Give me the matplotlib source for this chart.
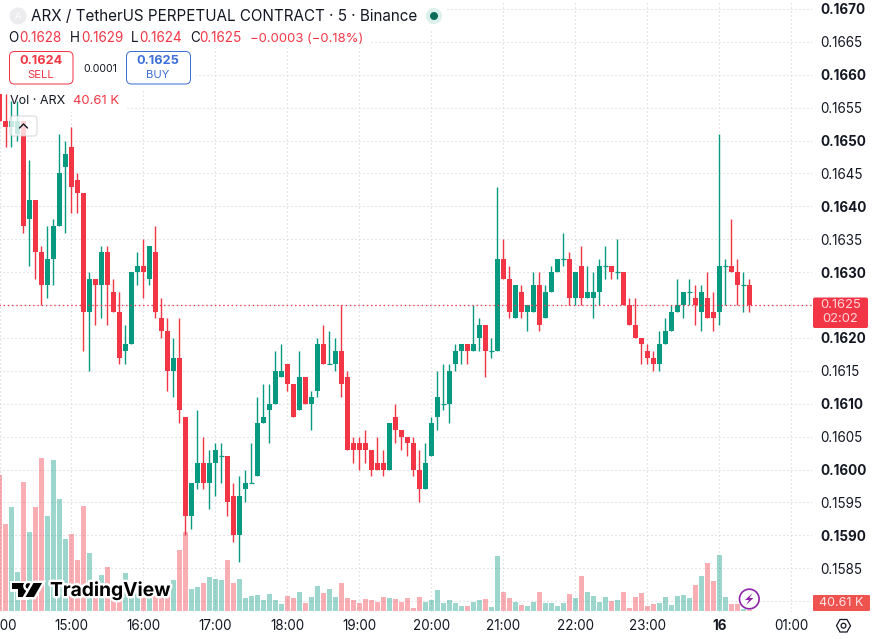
import matplotlib
matplotlib.use("Agg")
import matplotlib.pyplot as plt
import matplotlib.patheffects as pe
from matplotlib.patches import Circle, FancyBboxPatch, Polygon, Rectangle
import numpy as np

plt.rcParams["font.family"] = ["Inter", "DejaVu Sans"]

# ── Data ──────────────────────────────────────────────────────────────────────
# prices are in ticks of 0.0001, one bar every 5 minutes, bar 0 is 15:00
first_bar = -12
opens = [1657, 1653, 1652, 1651, 1653, 1638, 1641, 1633, 1628, 1632, 1637, 1646,
         1649, 1644, 1642, 1624, 1629, 1628, 1633, 1627, 1624, 1618, 1619, 1630,
         1631, 1629, 1633, 1623, 1621, 1615, 1617, 1608, 1593, 1598, 1601, 1598,
         1601, 1602, 1602, 1596, 1590, 1597, 1598, 1599, 1607, 1609, 1610, 1614,
         1616, 1613, 1609, 1614, 1610, 1612, 1619, 1616, 1616, 1618, 1614, 1604,
         1604, 1604, 1603, 1601, 1601, 1600, 1608, 1606, 1605, 1604, 1600, 1597,
         1602, 1608, 1610, 1610, 1616, 1618, 1619, 1618, 1620, 1622, 1618, 1618,
         1632, 1629, 1623, 1627, 1624, 1624, 1628, 1623, 1627, 1630, 1632, 1632,
         1626, 1631, 1626, 1626, 1627, 1631, 1631, 1630, 1630, 1625, 1622, 1620,
         1618, 1617, 1616, 1619, 1621, 1624, 1625, 1627, 1626, 1624, 1626, 1624,
         1624, 1631, 1631, 1630, 1628, 1628]
closes = [1653, 1652, 1653, 1653, 1637, 1641, 1633, 1628, 1632, 1637, 1645, 1648,
          1643, 1642, 1624, 1629, 1628, 1633, 1628, 1624, 1617, 1619, 1630, 1631,
          1630, 1634, 1624, 1621, 1615, 1617, 1609, 1593, 1598, 1601, 1598, 1601,
          1603, 1602, 1595, 1590, 1596, 1598, 1598, 1607, 1608, 1610, 1615, 1615,
          1613, 1608, 1614, 1610, 1611, 1619, 1616, 1616, 1618, 1613, 1603, 1603,
          1603, 1603, 1600, 1600, 1600, 1607, 1606, 1605, 1604, 1600, 1597, 1601,
          1607, 1611, 1610, 1615, 1618, 1619, 1618, 1619, 1622, 1618, 1618, 1632,
          1629, 1624, 1628, 1624, 1625, 1628, 1622, 1627, 1630, 1632, 1632, 1626,
          1630, 1626, 1627, 1627, 1631, 1631, 1630, 1630, 1625, 1622, 1620, 1619,
          1617, 1616, 1619, 1621, 1624, 1625, 1627, 1627, 1625, 1627, 1623, 1623,
          1631, 1631, 1630, 1628, 1628, 1625]
highs = [1657, 1657, 1656, 1656, 1653, 1647, 1641, 1634, 1637, 1638, 1651, 1650,
         1652, 1645, 1642, 1630, 1629, 1634, 1634, 1629, 1627, 1622, 1630, 1633,
         1635, 1634, 1637, 1626, 1623, 1620, 1623, 1608, 1598, 1609, 1605, 1603,
         1604, 1604, 1602, 1598, 1599, 1600, 1604, 1611, 1613, 1613, 1618, 1619,
         1616, 1613, 1618, 1614, 1612, 1620, 1622, 1621, 1620, 1625, 1615, 1605,
         1605, 1606, 1603, 1605, 1603, 1607, 1610, 1606, 1605, 1605, 1603, 1604,
         1608, 1615, 1616, 1616, 1619, 1619, 1619, 1625, 1623, 1622, 1620, 1643,
         1635, 1631, 1628, 1628, 1625, 1630, 1630, 1628, 1631, 1632, 1636, 1633,
         1630, 1634, 1631, 1630, 1632, 1634, 1631, 1635, 1630, 1626, 1626, 1620,
         1619, 1618, 1621, 1623, 1625, 1629, 1627, 1629, 1628, 1628, 1630, 1627,
         1651, 1632, 1638, 1632, 1630, 1629]
lows = [1653, 1649, 1649, 1650, 1636, 1631, 1629, 1625, 1626, 1628, 1637, 1636,
        1639, 1639, 1618, 1615, 1622, 1623, 1622, 1624, 1616, 1616, 1619, 1628,
        1626, 1628, 1623, 1620, 1612, 1611, 1607, 1590, 1591, 1597, 1597, 1594,
        1596, 1598, 1593, 1589, 1586, 1595, 1598, 1599, 1607, 1604, 1610, 1614,
        1612, 1608, 1609, 1610, 1606, 1611, 1616, 1616, 1615, 1611, 1603, 1601,
        1600, 1601, 1599, 1600, 1599, 1600, 1604, 1603, 1602, 1599, 1595, 1597,
        1602, 1606, 1609, 1607, 1615, 1616, 1616, 1618, 1618, 1614, 1617, 1618,
        1629, 1623, 1623, 1623, 1621, 1624, 1621, 1623, 1627, 1630, 1631, 1625,
        1625, 1625, 1626, 1623, 1625, 1629, 1629, 1629, 1625, 1622, 1620, 1616,
        1616, 1615, 1615, 1619, 1621, 1624, 1623, 1625, 1622, 1621, 1623, 1621,
        1622, 1625, 1630, 1625, 1624, 1624]
# volume in thousands
volumes = [4080, 2610, 3120, 1170, 3870, 2370, 3120, 4590, 2850, 4530, 3360, 2160,
           2310, 1530, 3150, 1740, 810, 1080, 1320, 630, 540, 1140, 600, 540,
           600, 510, 600, 540, 540, 930, 1830, 2370, 660, 720, 840, 1020,
           960, 930, 1530, 840, 960, 390, 450, 480, 330, 510, 330, 210,
           450, 390, 570, 240, 420, 750, 540, 660, 420, 840, 390, 330,
           240, 360, 330, 270, 420, 390, 360, 270, 390, 90, 420, 270,
           330, 630, 240, 330, 240, 150, 150, 270, 330, 360, 120, 1650,
           570, 390, 270, 180, 150, 270, 570, 240, 240, 150, 240, 510,
           390, 1050, 570, 450, 270, 420, 300, 330, 570, 90, 420, 540,
           150, 210, 240, 420, 180, 450, 480, 390, 780, 1050, 1440, 900,
           1680, 420, 210, 210, 60, 40.61]

time_ticks = [-12, 0, 12, 24, 36, 48, 60, 72, 84, 96, 108, 120]
time_labels = ["14:00", "15:00", "16:00", "17:00", "18:00", "19:00",
               "20:00", "21:00", "22:00", "23:00", "16", "01:00"]
price_ticks = [1580 + 5 * k for k in range(19)]
# these two scale labels sit under the badges
hidden_price_labels = [1580, 1625]

UP = "#089981"
DOWN = "#f23645"
TEXT = "#131722"
BLUE = "#3d6fd9"

o = np.array(opens) / 10000
c = np.array(closes) / 10000
h = np.array(highs) / 10000
l = np.array(lows) / 10000
v = np.array(volumes)
bars = np.arange(len(o)) + first_bar
is_up = c >= o
colors = np.where(is_up, UP, DOWN)

# ── Layout ────────────────────────────────────────────────────────────────────
W, H = 874, 639
fig = plt.figure(figsize=(W / 100, H / 100), dpi=100, facecolor="white")
pane = [-12 / W, (H - 612) / H, 824 / W, 612 / H]

back = fig.add_axes(pane, zorder=1, facecolor="white")
ax_vol = fig.add_axes(pane, zorder=2, facecolor="none")
ax = fig.add_axes(pane, zorder=3, facecolor="none")
ui = fig.add_axes([0, 0, 1, 1], zorder=4, facecolor="none")
ui.set_xlim(0, W)
ui.set_ylim(H, 0)
ui.axis("off")

xlim = ((-12 - 71.5) / 6, (812 - 71.5) / 6)
ylim = (0.1650 - (612 - 140.5) / 65.8 * 0.001, 0.1650 + 140.5 / 65.8 * 0.001)
for a in (back, ax_vol, ax):
    a.set_xlim(xlim)
    for side in a.spines.values():
        side.set_visible(False)
back.set_ylim(ylim)
ax.set_ylim(ylim)
ax_vol.set_ylim(-30, 611 * 30)
ax_vol.set_xticks([])
ax_vol.set_yticks([])
back.set_xticks(time_ticks)
back.set_yticks([p / 10000 for p in price_ticks])
back.set_xticklabels([])
back.set_yticklabels([])
back.tick_params(length=0)
back.grid(True, color="#cfd2d6", linewidth=0.8, linestyle=(0, (1, 2.6)))
back.set_axisbelow(True)

# the legend rows sit on a white strip that hides the grid
for x0, y0, x1, y1 in [(0, 3, 445, 29), (0, 29, 370, 48), (0, 48, 196, 90), (0, 90, 125, 112)]:
    back.add_patch(Rectangle((x0, y0), x1 - x0, y1 - y0, transform=ui.transData,
                             facecolor="white", edgecolor="none", zorder=0.8))

# ── Volume ────────────────────────────────────────────────────────────────────
ax_vol.bar(bars, v, width=5 / 6, color=colors, alpha=0.4, linewidth=0)

# ── Candles ───────────────────────────────────────────────────────────────────
ax.vlines(bars, l, h, colors=colors, linewidth=1.0, zorder=2)
ax.bar(bars, np.abs(c - o), bottom=np.minimum(o, c), width=5 / 6, color=colors,
       linewidth=0, zorder=3)
doji = o == c
ax.hlines(o[doji], bars[doji] - 5 / 12, bars[doji] + 5 / 12, colors=colors[doji],
          linewidth=0.9, zorder=3)
ax.axhline(c[-1], color=DOWN, linewidth=0.95, linestyle=(0, (1, 2.2)), zorder=4)

# ── Axis labels ───────────────────────────────────────────────────────────────
ax.set_xticks(time_ticks)
ax.set_xticklabels(time_labels, fontsize=9.7, color=TEXT)
ax.xaxis.get_ticklabels()[time_labels.index("16")].set_fontweight("bold")
ax.yaxis.tick_right()
ax.set_yticks([p / 10000 for p in price_ticks])
ax.set_yticklabels(["" if p in hidden_price_labels else f"{p / 10000:.4f}" for p in price_ticks],
                   fontsize=9.7, color=TEXT)
for p, lab in zip(price_ticks, ax.yaxis.get_ticklabels()):
    if p % 10 == 0:
        lab.set_fontweight("bold")
ax.tick_params(axis="x", length=0, pad=5.2)
ax.tick_params(axis="y", length=0, pad=6.2)


def label(x, y, s, size, color=TEXT, weight="normal", ha="left"):
    return ui.text(x, y, s, fontsize=size * 0.72, color=color, fontweight=weight,
                   ha=ha, va="center")


def rounded(x0, y0, x1, y1, radius, face, edge, lw=1.0, alpha=1.0):
    ui.add_patch(FancyBboxPatch((x0, y0), x1 - x0, y1 - y0,
                                boxstyle=f"round,pad=0,rounding_size={radius}",
                                facecolor=face, edgecolor=edge, linewidth=lw * 0.72,
                                alpha=alpha))


# ── Legend ────────────────────────────────────────────────────────────────────
ui.add_patch(Circle((18, 16), 8.5, facecolor="#ececee", edgecolor="none"))
label(18, 16.3, "A", 9, color="white", ha="center")
label(31, 16.5, "ARX / TetherUS PERPETUAL CONTRACT · 5 · Binance", 15.2)
ui.add_patch(Circle((434, 16), 8, facecolor="#dcefeb", edgecolor="none"))
ui.add_patch(Circle((434, 16), 4, facecolor="#0b6b57", edgecolor="none"))

ohlc = [("O", 8, "0.1628", 19), ("H", 70, "0.1629", 81),
        ("L", 131, "0.1624", 139), ("C", 190, "0.1625", 199)]
for letter, lx, value, vx in ohlc:
    label(lx, 38.5, letter, 13.5)
    label(vx, 38.5, value, 13.5, color=DOWN)
label(250, 38.5, "−0.0003 (−0.18%)", 13.1, color=DOWN)

rounded(9.5, 51.5, 73, 84, 5, "white", DOWN)
label(41, 61, "0.1624", 12.7, color=DOWN, weight="bold", ha="center")
label(41, 75.5, "SELL", 11.3, color=DOWN, ha="center")
label(100, 69, "0.0001", 10.5, ha="center")
rounded(126.5, 51.5, 190.5, 84, 5, "white", BLUE)
label(158, 61, "0.1625", 12.7, color=BLUE, weight="bold", ha="center")
label(158, 75.5, "BUY", 11.3, color=BLUE, ha="center")

label(10, 101.5, "Vol · ARX", 12.6)
label(73, 101.5, "40.61 K", 13.1, color=DOWN)

rounded(10, 116, 37, 136, 3, "white", "#c9ccd1", alpha=0.78)
ui.plot([19.5, 23.5, 27.5], [128, 124, 128], color=TEXT, linewidth=1.0,
        solid_capstyle="round")

# ── Price scale badges ────────────────────────────────────────────────────────
rounded(813, 297.5, 868, 328, 2, DOWN, "none")
label(840.5, 305.5, "0.1625", 13, color="#fbd6da", ha="center")
label(840.5, 319.5, "02:02", 13, color="#fbd6da", ha="center")
rounded(813, 595, 870, 611, 1, "#ef5350", "none")
label(841.5, 603.3, "40.61 K", 12.5, color="#fde4e4", ha="center")

# ── Watermark ─────────────────────────────────────────────────────────────────
halo = [pe.withStroke(linewidth=3.5, foreground="white")]
logo_parts = [
    Polygon([(12, 583), (26, 583), (26, 597), (18, 597), (18, 589), (12, 589)],
            closed=True, facecolor="black", edgecolor="none"),
    Circle((28.5, 586), 2.9, facecolor="black", edgecolor="none"),
    Polygon([(33.5, 583), (42, 583), (34, 597), (25.5, 597)],
            closed=True, facecolor="black", edgecolor="none"),
]
for part in logo_parts:
    part.set_path_effects(halo)
    ui.add_patch(part)
logo_text = label(50, 590.5, "TradingView", 19.2, color="black", weight="bold")
logo_text.set_path_effects(halo)

# ── Small icons ───────────────────────────────────────────────────────────────
ui.add_patch(Circle((749.3, 599), 9.8, facecolor="white", edgecolor="#8e24aa", linewidth=1.2))
ui.add_patch(Polygon([(752.5, 593), (745, 600), (749, 600), (746, 605),
                      (753.5, 598), (749.5, 598)],
                     closed=True, facecolor="#8e24aa", edgecolor="none"))
ui.add_patch(Polygon([(836.5, 625.7), (840, 619.5), (847, 619.5), (850.5, 625.7),
                      (847, 632), (840, 632)],
                     closed=True, facecolor="none", edgecolor=TEXT, linewidth=0.9))
ui.add_patch(Circle((843.5, 625.7), 2.4, facecolor="none", edgecolor=TEXT, linewidth=0.9))

fig.savefig("out.png", dpi=100)
